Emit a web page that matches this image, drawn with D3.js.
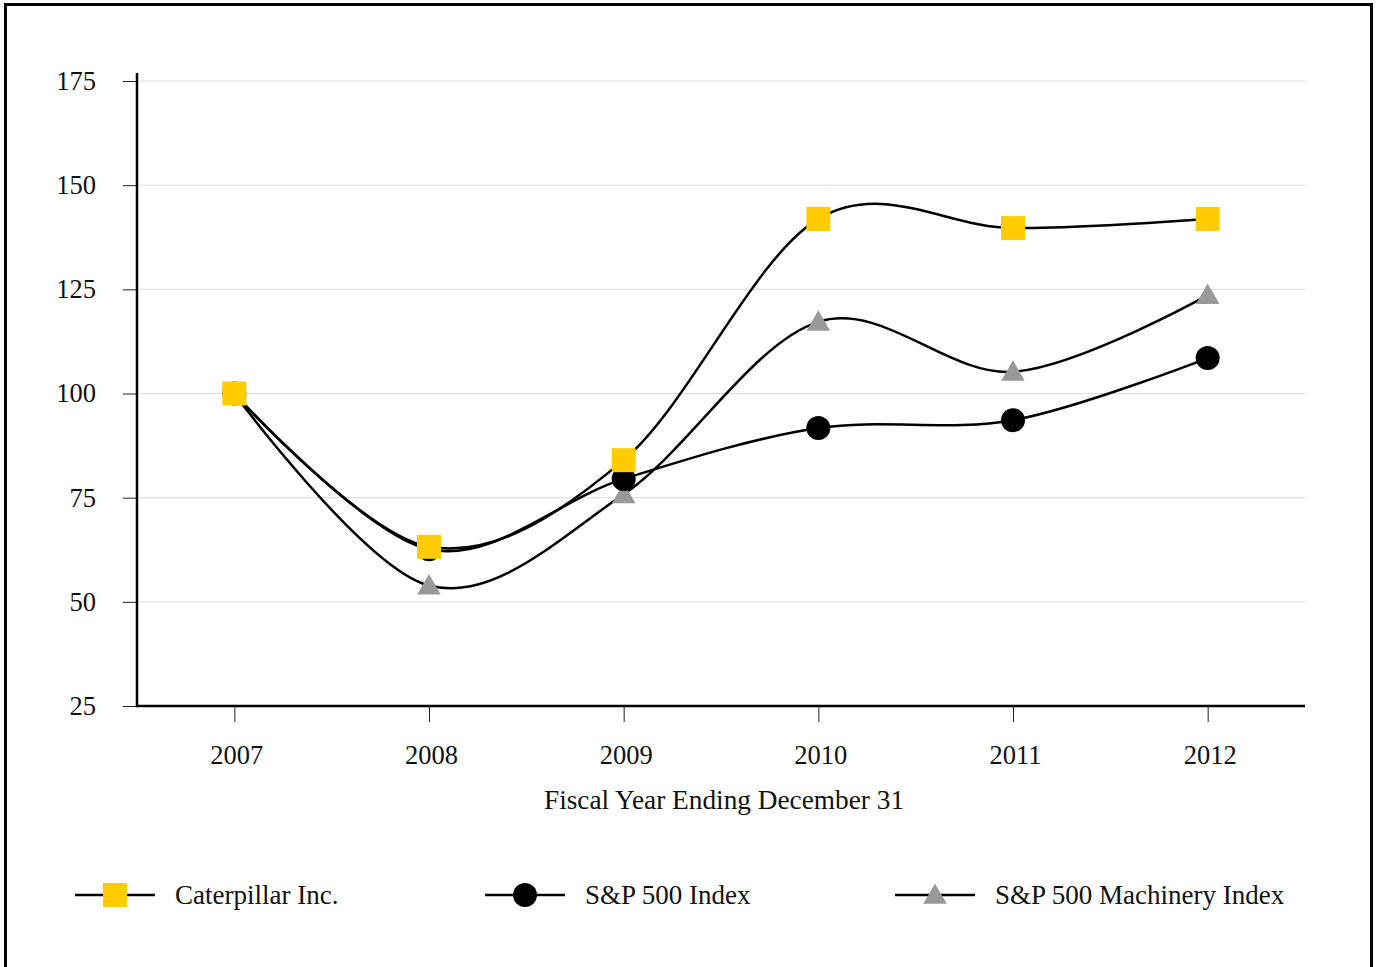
<!DOCTYPE html>
<html>
<head>
<meta charset="utf-8">
<script src="https://cdn.jsdelivr.net/npm/d3@7"></script>
<style>
  body { margin: 0; background: #fff; }
  svg text { font-family: "Liberation Serif", "DejaVu Serif", serif; fill: #111; }
</style>
</head>
<body>
<script>
let years = ["2007", "2008", "2009", "2010", "2011", "2012"];
let yTicks = [25, 50, 75, 100, 125, 150, 175];
let caterpillar = [100, 63.2, 84, 141.9, 139.7, 141.9];
let sp500 = [100, 62.6, 79.5, 91.7, 93.6, 108.5];
let machinery = [100, 53.9, 75.8, 117.2, 105.2, 123.6];

let seriesNames = ["Caterpillar Inc.", "S&P 500 Index", "S&P 500 Machinery Index"];

let WIDTH = 1377, HEIGHT = 967;
let PAD = {left: 137, right: 72, top: 81, bottom: 261};
let SERIF = '"Liberation Serif", "DejaVu Serif", serif';

let svg = d3.select("body").append("svg")
  .attr("width", WIDTH).attr("height", HEIGHT);

// outer frame
svg.append("rect")
  .attr("x", 5.5).attr("y", 4.5)
  .attr("width", 1366).attr("height", 970)
  .attr("fill", "none").attr("stroke", "#000").attr("stroke-width", 3);

let x = d3.scalePoint().domain(years)
  .range([PAD.left, WIDTH - PAD.right]).padding(0.5);
let y = d3.scaleLinear().domain([25, 175])
  .range([HEIGHT - PAD.bottom, PAD.top]);

// gridlines
svg.append("g").selectAll("line").data(yTicks.slice(1)).enter()
  .append("line")
  .attr("x1", PAD.left).attr("x2", WIDTH - PAD.right)
  .attr("y1", d => y(d)).attr("y2", d => y(d))
  .attr("stroke", "#dcdcdc").attr("stroke-width", 1);

// y axis
let yAxis = svg.append("g")
  .attr("transform", `translate(${PAD.left},0)`)
  .call(d3.axisLeft(y).tickValues(yTicks).tickSize(14).tickPadding(27));
yAxis.attr("font-family", null).style("font-family", SERIF);
yAxis.select(".domain").remove();
yAxis.selectAll(".tick line").attr("stroke", "#222").attr("stroke-width", 1);
yAxis.selectAll(".tick text")
  .style("font-family", SERIF).style("font-size", "26.5px");
svg.append("line")
  .attr("x1", PAD.left).attr("x2", PAD.left)
  .attr("y1", PAD.top - 8).attr("y2", y(25) + 1)
  .attr("stroke", "#000").attr("stroke-width", 2.5);

// x axis
let xAxis = svg.append("g")
  .attr("transform", `translate(0,${y(25)})`)
  .call(d3.axisBottom(x).tickSize(16).tickPadding(23));
xAxis.attr("font-family", null).style("font-family", SERIF);
xAxis.select(".domain").remove();
xAxis.selectAll(".tick line").attr("stroke", "#222").attr("stroke-width", 1);
xAxis.selectAll(".tick text")
  .attr("dx", 2)
  .style("font-family", SERIF).style("font-size", "26.5px");
svg.append("line")
  .attr("x1", PAD.left - 1).attr("x2", WIDTH - PAD.right)
  .attr("y1", y(25)).attr("y2", y(25))
  .attr("stroke", "#000").attr("stroke-width", 2.5);

svg.append("text")
  .attr("x", 724).attr("y", 809)
  .attr("text-anchor", "middle")
  .style("font-size", "27.3px")
  .text("Fiscal Year Ending December 31");

let line = d3.line()
  .x((d, i) => x(years[i]))
  .y(d => y(d))
  .curve(d3.curveCardinal.tension(0));

let order = [machinery, sp500, caterpillar];
order.forEach(vals => {
  svg.append("path").datum(vals)
    .attr("d", line)
    .attr("fill", "none")
    .attr("stroke", "#000")
    .attr("stroke-width", 2.5);
});

let sym = {
  square: d3.symbol().type(d3.symbolSquare).size(576),
  circle: d3.symbol().type(d3.symbolCircle).size(Math.PI * 12 * 12),
  triangle: d3.symbol().type(d3.symbolTriangle).size(240)
};
let styles = [
  {vals: caterpillar, shape: "square", color: "#ffcc00"},
  {vals: sp500, shape: "circle", color: "#000"},
  {vals: machinery, shape: "triangle", color: "#999999"}
];

[2, 1, 0].forEach(k => {
  let s = styles[k];
  svg.append("g").selectAll("path").data(s.vals).enter()
    .append("path")
    .attr("d", sym[s.shape])
    .attr("transform", (d, i) => `translate(${x(years[i])},${y(d) + (s.shape === "triangle" ? 2 : 0)})`)
    .attr("fill", s.color);
});

// legend
let legendX = [75, 485, 895];
styles.forEach((s, k) => {
  let g = svg.append("g").attr("transform", `translate(${legendX[k]},895)`);
  g.append("line").attr("x1", 0).attr("x2", 80)
    .attr("stroke", "#000").attr("stroke-width", 2.5);
  g.append("path").attr("d", sym[s.shape])
    .attr("transform", `translate(40,${s.shape === "triangle" ? 2 : 0})`)
    .attr("fill", s.color);
  g.append("text").attr("x", 100).attr("y", 9)
    .style("font-size", "27px").text(seriesNames[k]);
});
</script>
</body>
</html>
